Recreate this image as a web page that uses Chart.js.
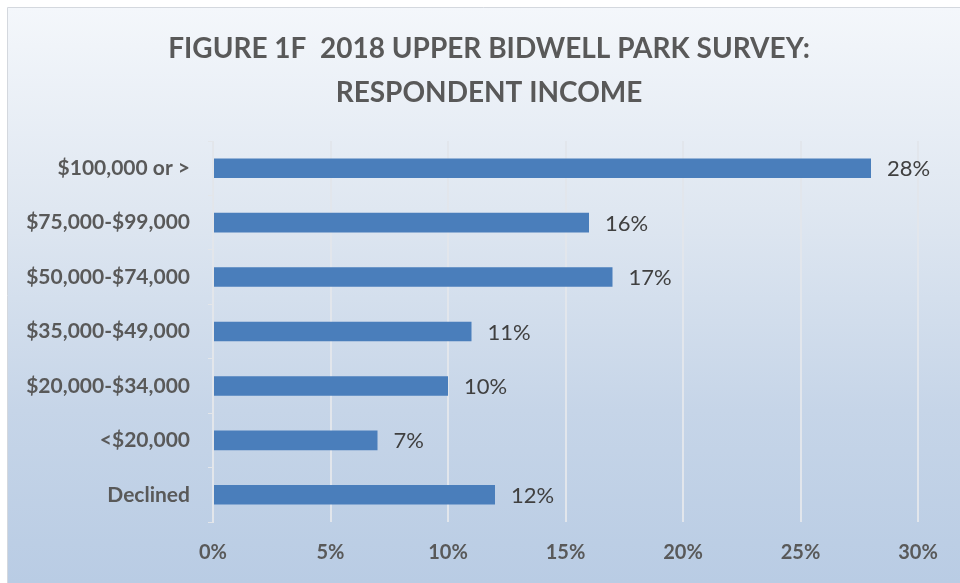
<!DOCTYPE html>
<html>
<head>
<meta charset="utf-8">
<script src="https://cdn.jsdelivr.net/npm/chart.js@4/dist/chart.umd.min.js"></script>
<style>
  html, body { margin: 0; padding: 0; background: #ffffff; }
  #wrap { width: 960px; height: 583px; }
</style>
</head>
<body>
<div id="wrap"><canvas id="incomeChart" width="960" height="583"></canvas></div>
<script>
// Survey responses by household income bracket
const incomeBrackets = ['$100,000 or >', '$75,000-$99,000', '$50,000-$74,000', '$35,000-$49,000', '$20,000-$34,000', '<$20,000', 'Declined'];
const respondentShare = [28, 16, 17, 11, 10, 7, 12];
const axisTicks = [0, 5, 10, 15, 20, 25, 30];
const titleLines = ['FIGURE 1F  2018 UPPER BIDWELL PARK SURVEY:', 'RESPONDENT INCOME'];

const textGray = '#595959';

// Soft blue panel behind the chart
const panelBackground = {
    id: 'panelBackground',
    beforeDraw(chart) {
        const ctx = chart.ctx;
        ctx.save();
        ctx.fillStyle = '#ffffff';
        ctx.fillRect(0, 0, chart.width, chart.height);
        const grad = ctx.createLinearGradient(0, 8, 0, chart.height);
        grad.addColorStop(0, '#f4f7fb');
        grad.addColorStop(0.35, '#dfe7f1');
        grad.addColorStop(0.7, '#c6d5e8');
        grad.addColorStop(1, '#b9cce4');
        ctx.fillStyle = grad;
        ctx.fillRect(8, 8, chart.width - 8, chart.height - 8);
        ctx.strokeStyle = '#d4d8de';
        ctx.lineWidth = 1;
        ctx.beginPath();
        ctx.moveTo(7.5, chart.height);
        ctx.lineTo(7.5, 7.5);
        ctx.lineTo(chart.width, 7.5);
        ctx.stroke();
        ctx.restore();
    }
};

// Two-line heading, centred over the panel rather than the plot
const panelTitle = {
    id: 'panelTitle',
    afterDraw(chart) {
        const ctx = chart.ctx;
        ctx.save();
        ctx.font = 'bold 28px Lato';
        ctx.fillStyle = textGray;
        ctx.textAlign = 'center';
        ctx.textBaseline = 'middle';
        titleLines.forEach((line, i) => {
            ctx.fillText(line, 489, 49 + i * 44);
        });
        ctx.restore();
    }
};

// Percent labels just past the end of each bar
const barValueLabels = {
    id: 'barValueLabels',
    afterDatasetsDraw(chart) {
        const ctx = chart.ctx;
        const meta = chart.getDatasetMeta(0);
        ctx.save();
        ctx.font = '22px Lato';
        ctx.fillStyle = '#404040';
        ctx.textAlign = 'left';
        ctx.textBaseline = 'middle';
        meta.data.forEach((bar, i) => {
            ctx.fillText(respondentShare[i] + '%', bar.x + 16, bar.y + 1);
        });
        ctx.restore();
    }
};

new Chart(document.getElementById('incomeChart'), {
    type: 'bar',
    data: {
        labels: incomeBrackets,
        datasets: [{
            data: respondentShare,
            backgroundColor: '#4a7ebb',
            borderWidth: 0,
            categoryPercentage: 1,
            barPercentage: 0.36
        }]
    },
    options: {
        indexAxis: 'y',
        responsive: false,
        animation: false,
        layout: { padding: { top: 141, right: 42, bottom: 0, left: 0 } },
        plugins: {
            legend: { display: false },
            tooltip: { enabled: false },
            title: { display: false }
        },
        scales: {
            x: {
                min: 0,
                max: 30,
                afterBuildTicks(scale) {
                    scale.ticks = axisTicks.map(v => ({ value: v }));
                },
                afterFit(scale) { scale.height = 61; },
                border: { display: false },
                grid: { color: '#e2e6ec', lineWidth: 2, drawTicks: false },
                ticks: {
                    color: textGray,
                    font: { family: 'Lato', size: 20, weight: 'bold' },
                    padding: 19,
                    callback: v => v + '%'
                }
            },
            y: {
                afterFit(scale) { scale.width = 213; },
                border: { display: true, color: '#e3e6ea', width: 1 },
                grid: { offset: true, drawOnChartArea: false, color: '#e3e6ea', tickLength: 5 },
                ticks: {
                    color: textGray,
                    font: { family: 'Lato', size: 21, weight: 'bold' },
                    padding: 18
                }
            }
        }
    },
    plugins: [panelBackground, barValueLabels, panelTitle]
});
</script>
</body>
</html>
